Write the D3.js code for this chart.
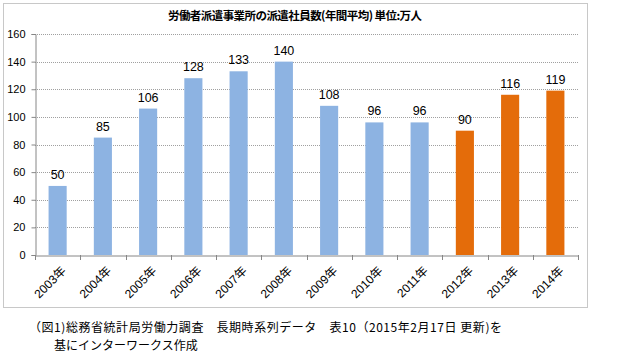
<!DOCTYPE html>
<html>
<head>
<meta charset="utf-8">
<script src="https://cdn.jsdelivr.net/npm/d3@7"></script>
<style>
body { margin: 0; background: #fff; }
text { font-family: "Liberation Sans", "Noto Sans CJK JP", sans-serif; }
.jp { font-family: "Noto Sans CJK JP", sans-serif; }
</style>
</head>
<body>
<svg width="622" height="363"></svg>
<script>
var years = ["2003年","2004年","2005年","2006年","2007年","2008年","2009年","2010年","2011年","2012年","2013年","2014年"];
var values = [50, 85, 106, 128, 133, 140, 108, 96, 96, 90, 116, 119];
var highlight = ["2012年","2013年","2014年"];
var yTicks = [0, 20, 40, 60, 80, 100, 120, 140, 160];

var svg = d3.select("svg");

// chart frame
svg.append("rect")
  .attr("x", 3.5).attr("y", 3.5).attr("width", 584).attr("height", 304)
  .attr("fill", "#fff").attr("stroke", "#c8c8c8");

var plotL = 35, plotR = 578, plotT = 34, plotB = 255;

var x = d3.scaleBand().domain(years).range([plotL, plotR]).paddingInner(0.6).paddingOuter(0.3);
var y = d3.scaleLinear().domain([0, 160]).range([plotB, plotT]);

// gridlines
svg.append("g").selectAll("line")
  .data(yTicks.slice(1))
  .join("line")
  .attr("x1", plotL).attr("x2", plotR)
  .attr("y1", function(d){ return Math.round(y(d)) + 0.5; })
  .attr("y2", function(d){ return Math.round(y(d)) + 0.5; })
  .attr("stroke", "#a0a0a0")
  .attr("stroke-dasharray", "1,1");

// bars
svg.append("g").selectAll("rect")
  .data(values)
  .join("rect")
  .attr("x", function(d, i){ return x(years[i]); })
  .attr("y", function(d){ return y(d); })
  .attr("width", x.bandwidth())
  .attr("height", function(d){ return y(0) - y(d); })
  .attr("fill", function(d, i){ return highlight.indexOf(years[i]) >= 0 ? "#e46c0a" : "#8db3e2"; });

// value labels
svg.append("g").selectAll("text")
  .data(values)
  .join("text")
  .attr("x", function(d, i){ return x(years[i]) + x.bandwidth() / 2; })
  .attr("y", function(d){ return y(d) - 7; })
  .attr("text-anchor", "middle")
  .attr("font-size", 12.5)
  .attr("fill", "#000")
  .text(function(d){ return d; });

// y axis
var yAxis = svg.append("g")
  .attr("transform", "translate(" + (plotL + 0.5) + ",0)")
  .call(d3.axisLeft(y).tickValues(yTicks).tickSize(4).tickPadding(6));
yAxis.select(".domain").attr("stroke", "#868686");
yAxis.selectAll(".tick line").attr("stroke", "#868686");
yAxis.selectAll("text").attr("font-size", 11).attr("fill", "#000")
  .style("font-family", "'Liberation Sans', sans-serif");

// x axis
var xAxis = svg.append("g")
  .attr("transform", "translate(0," + (plotB + 0.5) + ")")
  .call(d3.axisBottom(x).tickSize(0).tickSizeOuter(0));
xAxis.select(".domain").attr("stroke", "#868686");
xAxis.selectAll("text")
  .attr("font-size", 12)
  .attr("fill", "#000")
  .attr("text-anchor", "end")
  .attr("dy", "0.35em")
  .attr("transform", "translate(4,11) rotate(-45)")
  .style("font-family", "'Liberation Sans', 'Noto Sans CJK JP', sans-serif");

// tick marks between categories
var bounds = d3.range(years.length + 1).map(function(i){ return plotL + i * (plotR - plotL) / years.length; });
svg.append("g").selectAll("line")
  .data(bounds)
  .join("line")
  .attr("x1", function(d){ return Math.round(d) + 0.5; })
  .attr("x2", function(d){ return Math.round(d) + 0.5; })
  .attr("y1", plotB).attr("y2", plotB + 5)
  .attr("stroke", "#868686");

// title
svg.append("text")
  .attr("class", "jp")
  .attr("x", 168).attr("y", 20)
  .attr("font-size", 11.5)
  .attr("font-weight", "bold")
  .attr("textLength", 254)
  .attr("lengthAdjust", "spacing")
  .text("労働者派遣事業所の派遣社員数(年間平均) 単位:万人");

// caption
svg.append("text")
  .attr("class", "jp")
  .attr("x", 29).attr("y", 332)
  .attr("font-size", 12)
  .attr("textLength", 473)
  .attr("lengthAdjust", "spacing")
  .text("（図1)総務省統計局労働力調査　長期時系列データ　表10（2015年2月17日 更新)を");
svg.append("text")
  .attr("class", "jp")
  .attr("x", 54).attr("y", 350)
  .attr("font-size", 12)
  .text("基にインターワークス作成");
</script>
</body>
</html>
